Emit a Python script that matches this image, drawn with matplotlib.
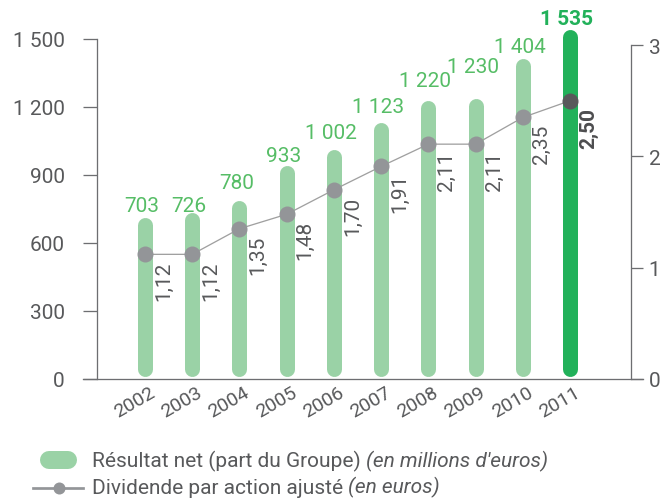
import matplotlib
matplotlib.use('Agg')
import matplotlib.pyplot as plt
from matplotlib.transforms import ScaledTranslation
from matplotlib.lines import Line2D

# ---------------- data ----------------
years = ['2002', '2003', '2004', '2005', '2006', '2007', '2008', '2009', '2010', '2011']
net_income = [703, 726, 780, 933, 1002, 1123, 1220, 1230, 1404, 1535]
net_income_labels = ['703', '726', '780', '933', '1 002', '1 123', '1 220', '1 230', '1 404', '1 535']
dividend = [1.12, 1.12, 1.35, 1.48, 1.70, 1.91, 2.11, 2.11, 2.35, 2.50]
dividend_labels = ['1,12', '1,12', '1,35', '1,48', '1,70', '1,91', '2,11', '2,11', '2,35', '2,50']
left_ticks = [0, 300, 600, 900, 1200, 1500]
left_tick_labels = ['0', '300', '600', '900', '1 200', '1 500']
right_ticks = [0, 1, 2, 3]
right_tick_labels = ['0', '1', '2', '3']
legend_income = ['Résultat net (part du Groupe)', "(en millions d'euros)"]
legend_dividend = ['Dividende par action ajusté', '(en euros)']

# label placement nudges (pixels above bar top) - layout only
label_lift_px = [8.6, 3.4, 14, 6.5, 13.9, 12.4, 16.4, 28.2, 8.8, 7.1]

# ---------------- style ----------------
FONT = ['Roboto', 'DejaVu Sans']
plt.rcParams['font.family'] = FONT
W, H, DPI = 669, 502, 100
C_BAR = '#9ad2a6'
C_BAR_HI = '#22b15a'
C_LBL = '#56bd66'
C_TXT = '#58595b'
C_AX = '#6d6e71'
C_DOT = '#939598'
C_DOT_HI = '#58595b'
C_LINE = '#a0a0a0'
PT = 72 / DPI  # points per pixel
FW = 'normal'

fig = plt.figure(figsize=(W / DPI, H / DPI), dpi=DPI)
ax_left_px, ax_right_px, ax_bottom_px, ax_top_px = 97, 631, 380, 17.3
ax = fig.add_axes([ax_left_px / W, (H - ax_bottom_px) / H,
                   (ax_right_px - ax_left_px) / W, (ax_bottom_px - ax_top_px) / H])
ax2 = ax.twinx()

n = len(years)
xs = list(range(n))
bar_px = 47.2
ax.set_xlim(-48 / bar_px, (n - 1) + 61 / bar_px)
ax.set_ylim(0, 1600)
axis_h_px = ax_bottom_px - ax_top_px
right_px_per_unit = 111.3
ax2.set_ylim(0, axis_h_px / right_px_per_unit)
u_per_px = 1600 / axis_h_px

# bars as thick round-capped lines
bar_w_px = 15
r_units = (bar_w_px / 2) * u_per_px
for i, v in enumerate(net_income):
    hi = i == n - 1
    col = C_BAR_HI if hi else C_BAR
    ax.plot([xs[i], xs[i]], [r_units + 3 * u_per_px, v - r_units + 2 * u_per_px],
            color=col, lw=bar_w_px * PT, solid_capstyle='round', zorder=2)
    ax.annotate(net_income_labels[i], xy=(xs[i], v + label_lift_px[i] * u_per_px),
                xytext=(-3 * PT, 0), textcoords='offset points',
                ha='center', va='baseline', fontsize=15,
                color=C_BAR_HI if hi else C_LBL,
                fontweight='bold' if hi else FW, annotation_clip=False)

# dividend line
ax2.plot(xs, dividend, color=C_LINE, lw=1.3 * PT, zorder=3)
for i, d in enumerate(dividend):
    hi = i == n - 1
    ax2.plot([xs[i]], [d], 'o', ms=16 * PT, color=C_DOT_HI if hi else C_DOT,
             mec='none', zorder=4)
    ax2.annotate(dividend_labels[i], xy=(xs[i], d), xytext=(9 * PT, -6 * PT),
                 textcoords='offset points', rotation=90, ha='left', va='top',
                 fontsize=15, color='#4d4d4f' if hi else C_TXT,
                 fontweight='bold' if hi else FW, annotation_clip=False)

# axes styling
for a in (ax, ax2):
    a.spines['top'].set_visible(False)
    a.spines['bottom'].set_visible(False)
    a.patch.set_visible(False)
ax.spines['right'].set_visible(False)
ax2.spines['left'].set_visible(False)
ax.spines['left'].set_bounds(0, 1500)
ax2.spines['right'].set_bounds(0, 3)
ax.spines['left'].set_color(C_AX)
ax2.spines['right'].set_color(C_AX)
ax.spines['left'].set_linewidth(1.3 * PT)
ax2.spines['right'].set_linewidth(1.3 * PT)

ax.set_yticks(left_ticks)
ax.set_yticklabels(left_tick_labels)
ax.tick_params(axis='y', direction='out', length=14 * PT, width=1.3 * PT, color=C_AX,
               pad=13, labelsize=15, labelcolor=C_TXT)
ax2.set_yticks(right_ticks)
ax2.set_yticklabels(right_tick_labels)
ax2.tick_params(axis='y', direction='out', length=12 * PT, width=1.3 * PT, color=C_AX,
                pad=4, labelsize=15, labelcolor=C_TXT)

ax.set_xticks(xs)
ax.set_xticklabels(years, rotation=30, ha='right', rotation_mode='anchor')
ax.tick_params(axis='x', length=0, pad=3, labelsize=14, labelcolor=C_TXT)
off = ScaledTranslation(4 / DPI, 0, fig.dpi_scale_trans)
for lab in ax.get_xticklabels():
    lab.set_transform(lab.get_transform() + off)

# extended baseline
ax.add_line(Line2D([(83 - ax_left_px) / (ax_right_px - ax_left_px),
                    (643 - ax_left_px) / (ax_right_px - ax_left_px)], [0, 0],
                   transform=ax.transAxes, color=C_AX, lw=1.3 * PT,
                   clip_on=False, zorder=5))

# ---------------- legend (manual) ----------------
def fx(px):
    return px / W

def fyy(py):
    return (H - py) / H

row1, row2 = 461, 489
fig.add_artist(Line2D([fx(49), fx(68)], [fyy(row1), fyy(row1)], transform=fig.transFigure,
                      color=C_BAR, lw=18 * PT, solid_capstyle='round'))
t1 = fig.text(fx(92), fyy(row1), legend_income[0], ha='left', va='center',
              fontsize=15, color=C_TXT)
ax.annotate(legend_income[1], xy=(1, 0), xycoords=t1, xytext=(5 * PT, 0),
            textcoords='offset points', ha='left', va='bottom', fontsize=15,
            color=C_TXT, fontstyle='italic', annotation_clip=False)

fig.add_artist(Line2D([fx(33), fx(83)], [fyy(row2), fyy(row2)], transform=fig.transFigure,
                      color=C_DOT, lw=2.7 * PT))
fig.add_artist(Line2D([fx(59)], [fyy(row2)], transform=fig.transFigure, marker='o',
                      ms=12 * PT, color=C_DOT, mec='none', lw=0))
t2 = fig.text(fx(92), fyy(row2), legend_dividend[0], ha='left', va='center',
              fontsize=15, color=C_TXT)
ax.annotate(legend_dividend[1], xy=(1, 0), xycoords=t2, xytext=(5 * PT, 0),
            textcoords='offset points', ha='left', va='bottom', fontsize=15,
            color=C_TXT, fontstyle='italic', annotation_clip=False)

fig.savefig('out.png', dpi=DPI)
